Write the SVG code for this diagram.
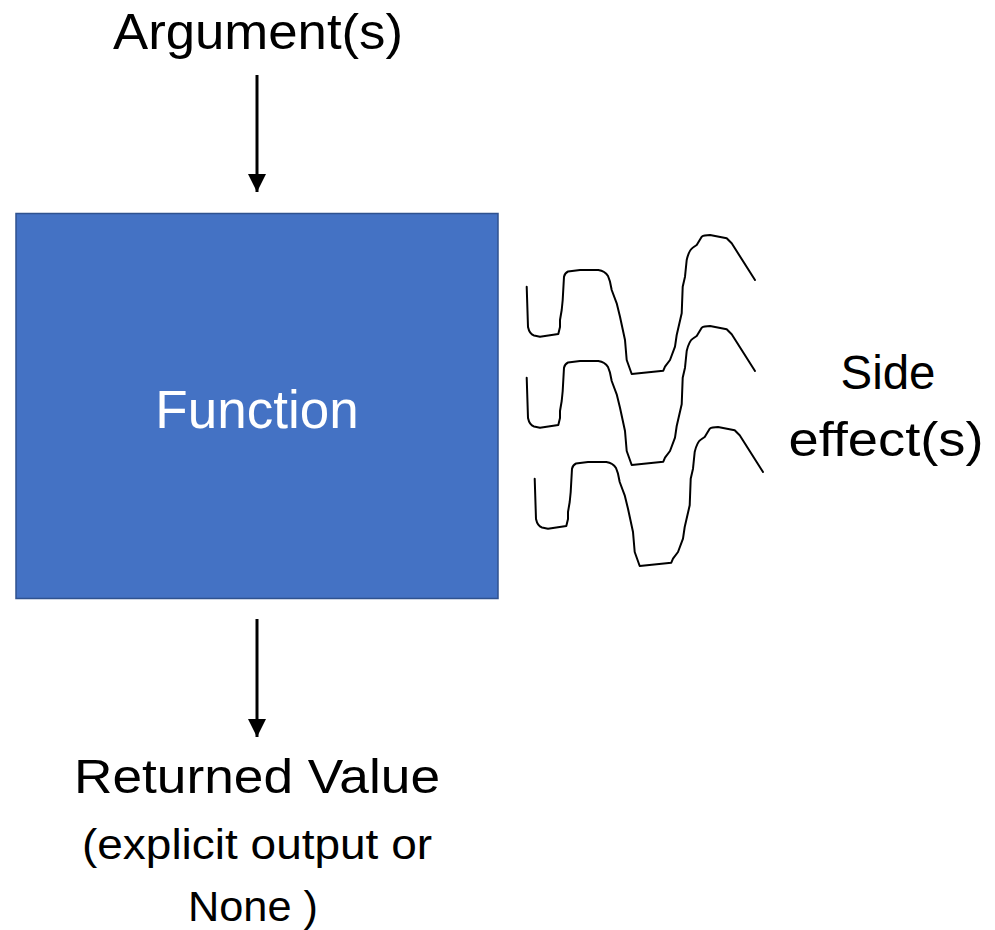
<svg xmlns="http://www.w3.org/2000/svg" xmlns:xlink="http://www.w3.org/1999/xlink" width="995" height="930" viewBox="0 0 995 930">
<style>
.t{font-family:"Liberation Sans",Arial,sans-serif;fill:#000;text-anchor:middle}
.conn{stroke:#000;stroke-width:3;fill:none}
.wave{stroke:#000;stroke-width:2;fill:none;stroke-linejoin:round;stroke-linecap:round}
</style>
<defs>
<marker id="ah" markerUnits="userSpaceOnUse" markerWidth="18" markerHeight="18" refX="16" refY="8" orient="auto" viewBox="0 0 16 16">
<path d="M0,0 L16,8 L0,16 Z" fill="#000"/>
</marker>
<path id="w" d="M526.7,286.7 L528,327 Q529.5,334 534,335.5 L540,336.7 L558.3,334 L560,327 L560,320 L561.7,310 L562.7,300 L564,276.7 Q565,272.7 568,271.5 L580,270 L598.3,270 Q605,271 608,276 L610,281.7 L611.7,290 L616.7,303.3 L620,316.7 L625,340 L626.7,360 L631.7,374 L663.3,370.7 L665,366.7 L670,360 L675,346.7 L676.7,335 L681.7,313.3 L682.7,286.7 L685,276.7 L686.7,260 Q689,250 693,247.5 L696.7,245 L701.7,236.7 Q704,235 710,235 L726.7,238.3 L731.7,243.3 L755,280"/>
</defs>
<g id="connectors">
<line class="conn" x1="257" y1="75" x2="257" y2="192" marker-end="url(#ah)"/>
<line class="conn" x1="257" y1="619" x2="257" y2="737" marker-end="url(#ah)"/>
</g>
<g id="arguments">
<text class="t" x="258" y="49" font-size="50" textLength="290" lengthAdjust="spacingAndGlyphs">Argument(s)</text>
</g>
<g id="function">
<rect x="16" y="213.5" width="482" height="385" fill="#4472C4" stroke="#2F528F" stroke-width="1.5"/>
<text class="t" x="257" y="428" font-size="53" style="fill:#fff">Function</text>
</g>
<g id="side-effects">
<use xlink:href="#w" href="#w" class="wave"/>
<use xlink:href="#w" href="#w" class="wave" transform="translate(0,91)"/>
<use xlink:href="#w" href="#w" class="wave" transform="translate(8,192)"/>
<text class="t" x="888" y="389" font-size="48" textLength="95" lengthAdjust="spacingAndGlyphs">Side</text>
<text class="t" x="886" y="456" font-size="48" textLength="195" lengthAdjust="spacingAndGlyphs">effect(s)</text>
</g>
<g id="returned-value">
<text class="t" x="257" y="793" font-size="49" textLength="366" lengthAdjust="spacingAndGlyphs">Returned Value</text>
<text class="t" x="257" y="859" font-size="43" textLength="350" lengthAdjust="spacingAndGlyphs">(explicit output or</text>
<text class="t" x="253" y="921" font-size="43" textLength="130" lengthAdjust="spacingAndGlyphs">None )</text>
</g>
</svg>
